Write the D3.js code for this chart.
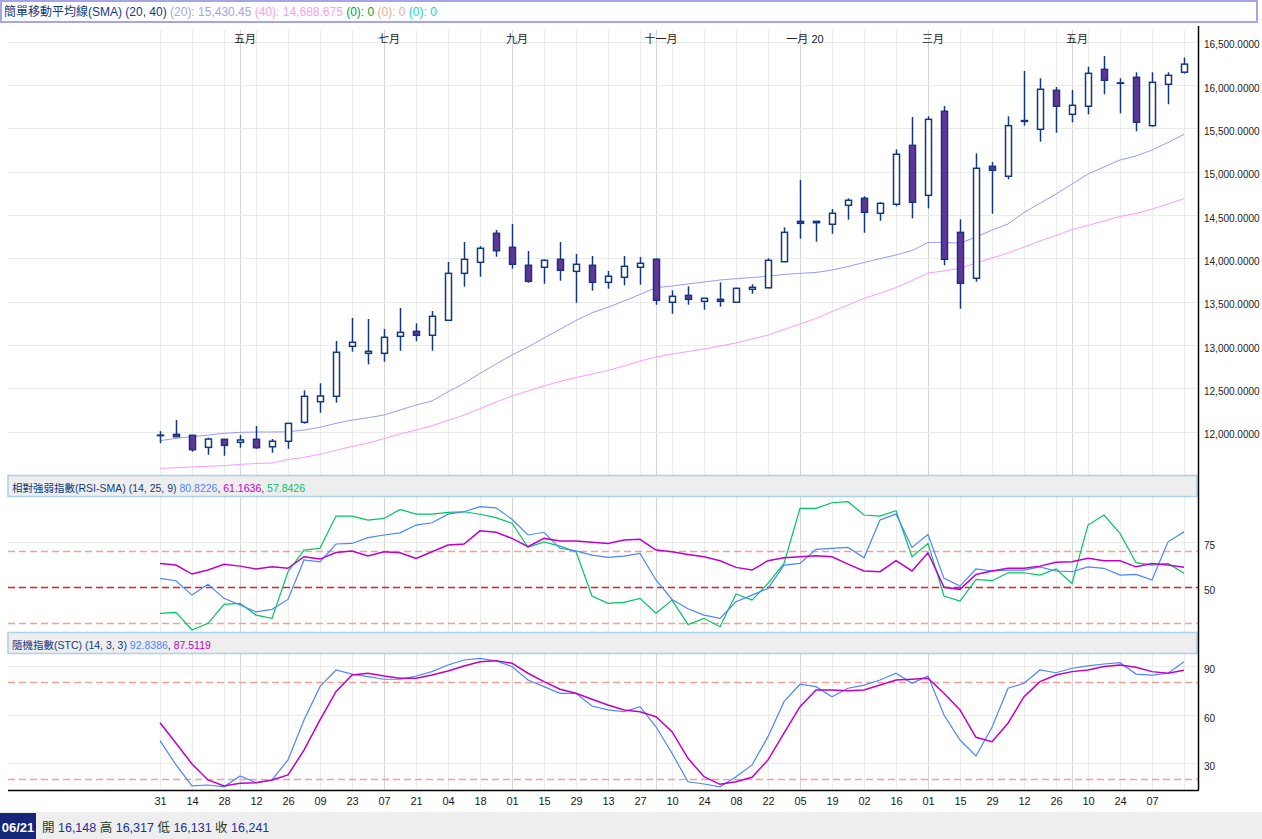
<!DOCTYPE html>
<html>
<head>
<meta charset="utf-8">
<script src="https://cdn.jsdelivr.net/npm/d3@7"></script>
<style>
  body { margin: 0; background: #fff; }
  svg { display: block; font-family: "Liberation Sans", Arial, "Noto Sans CJK TC", sans-serif; }
</style>
</head>
<body>
<svg id="chart" width="1262" height="839"></svg>
<script>
// weekly bars, 2019-03-31 .. 2020-06-21
const weeks = [
  "2019-03-31","2019-04-07","2019-04-14","2019-04-21","2019-04-28","2019-05-05","2019-05-12","2019-05-19",
  "2019-05-26","2019-06-02","2019-06-09","2019-06-16","2019-06-23","2019-06-30","2019-07-07","2019-07-14",
  "2019-07-21","2019-07-28","2019-08-04","2019-08-11","2019-08-18","2019-08-25","2019-09-01","2019-09-08",
  "2019-09-15","2019-09-22","2019-09-29","2019-10-06","2019-10-13","2019-10-20","2019-10-27","2019-11-03",
  "2019-11-10","2019-11-17","2019-11-24","2019-12-01","2019-12-08","2019-12-15","2019-12-22","2019-12-29",
  "2020-01-05","2020-01-12","2020-01-19","2020-01-26","2020-02-02","2020-02-09","2020-02-16","2020-02-23",
  "2020-03-01","2020-03-08","2020-03-15","2020-03-22","2020-03-29","2020-04-05","2020-04-12","2020-04-19",
  "2020-04-26","2020-05-03","2020-05-10","2020-05-17","2020-05-24","2020-05-31","2020-06-07","2020-06-14",
  "2020-06-21"
];

const openV = [11958,11969,11958,11819,11912,11877,11912,11826,11889,12108,12346,12408,12985,12904,12904,13100,
  13158,13112,13285,13827,13954,14289,14127,13920,13897,13989,13850,13920,13723,13781,13897,13989,
  13493,13573,13504,13527,13493,13643,13660,13961,14427,14427,14393,14612,14693,14520,14624,15304,
  14727,15697,14300,13770,15062,14947,15580,15489,15939,15662,15755,16181,16020,16089,15531,16008,16148];
const highV = [12007,12134,11962,11930,11915,11961,12065,11915,12098,12477,12558,13046,13312,13300,13185,13427,
  13250,13392,13958,14189,14142,14327,14396,14085,13989,14189,14050,14027,13854,14027,14015,14000,
  13631,13677,13540,13723,13660,13700,14000,14358,14904,14427,14569,14693,14716,14647,15258,15631,
  15639,15758,14450,15212,15112,15639,16162,16078,15977,15943,16211,16335,16078,16147,16147,16147,16317];
const lowV = [11866,11940,11769,11734,11722,11815,11803,11757,11803,12092,12219,12334,12923,12777,12807,12934,
  13043,12934,13285,13673,13788,14019,13880,13719,13707,13742,13488,13627,13650,13689,13696,13465,
  13361,13465,13407,13442,13485,13592,13655,13961,14227,14192,14284,14446,14296,14434,14601,14462,
  14577,13920,13419,13730,14515,14912,15531,15346,15450,15570,15662,15893,15674,15466,15519,15778,16131];
const closeV = [11960,11942,11792,11915,11842,11904,11815,11889,12096,12408,12412,12916,13031,12927,13089,13146,
  13112,13331,13827,13989,14116,14088,13931,13735,13977,13862,13931,13723,13793,13908,13943,13516,
  13562,13527,13539,13504,13654,13666,13977,14300,14404,14411,14520,14670,14531,14635,15201,14647,
  15604,13989,13712,15039,15016,15531,15590,15951,15755,15766,16135,16055,16025,15570,16031,16112,16241];

const sma20 = [11896,11923,11942,11961,11981,11992,11996,11996,11999,12019,12050,12096,12134,12161,12192,12250,
  12308,12354,12461,12558,12673,12781,12885,12977,13081,13181,13283,13372,13435,13508,13583,13662,
  13681,13704,13727,13750,13765,13778,13793,13814,13827,13837,13865,13906,13952,13996,14039,14090,
  14183,14185,14174,14246,14327,14396,14529,14635,14742,14858,14973,15054,15135,15181,15250,15337,15430.45];
const sma40 = [11577,11584,11593,11601,11608,11623,11632,11638,11679,11704,11739,11785,11829,11869,11919,11973,
  12019,12069,12129,12192,12265,12342,12411,12469,12527,12579,12625,12665,12706,12758,12815,12862,
  12896,12925,12954,12988,13023,13069,13115,13179,13242,13306,13387,13461,13537,13597,13663,13744,
  13831,13854,13885,13946,14004,14062,14131,14200,14264,14333,14379,14431,14483,14517,14569,14627,14688.675];

// RSI-SMA (14, 25, 9)
const rsi14 = [55.0,53.7,45.7,51.7,43.9,40.2,36.4,37.8,43.3,65.2,64.2,74.1,74.4,77.6,79.1,80.3,
  84.6,85.9,90.7,92.0,94.8,94.2,87.8,79.1,80.6,71.7,70.3,67.9,66.7,67.4,68.9,54.1,
  43.3,38.1,34.6,32.8,42.0,45.7,49.4,62.4,63.3,71.1,71.7,72.2,66.4,87.4,90.7,72.2,
  79.4,55.0,50.7,60.2,59.1,59.6,59.6,61.4,59.1,58.7,61.4,60.6,56.8,57.2,54.1,75.3,80.8226];
const rsi25 = [63.3,62.4,57.4,59.6,62.8,61.8,60.2,61.4,60.6,67.0,65.7,69.4,70.2,67.4,69.8,69.2,
  66.1,69.8,73.5,74.1,81.4,80.6,77.2,72.6,77.2,75.7,75.7,75.0,74.4,76.3,76.7,70.7,
  69.8,68.2,67.0,64.8,61.1,59.6,64.8,66.4,67.0,67.6,67.0,62.9,59.1,58.7,64.8,59.1,
  69.2,50.0,48.9,57.2,59.1,60.6,60.6,61.8,63.9,64.2,66.1,64.8,64.8,61.4,63.3,62.4,61.1636];
const rsi9 = [35.6,36.1,26.3,30.0,40.6,41.1,34.6,32.8,58.7,70.7,71.7,89.6,89.6,87.4,88.3,93.3,
  90.7,90.7,91.7,92.0,90.6,88.7,85.6,72.2,75.3,72.9,69.8,45.2,41.1,41.7,43.9,35.6,
  42.9,29.4,32.8,28.1,46.3,42.9,52.2,63.3,93.9,93.9,97.0,97.6,90.2,89.6,92.6,67.0,
  74.4,45.2,42.4,54.4,53.7,58.1,58.1,56.8,60.2,52.2,84.6,90.2,80.0,63.7,62.4,63.3,57.8426];

// Stochastic (14, 3, 3)
const stcK = [44.0,29.0,16.0,16.6,15.5,22.2,18.0,19.7,32.1,56.8,77.4,87.7,85.2,83.6,82.0,82.0,
  84.0,86.7,90.8,93.9,94.9,93.3,89.8,81.5,77.4,73.3,73.3,65.4,63.0,61.9,65.0,52.6,
  36.2,18.6,17.2,15.5,21.7,29.0,46.5,68.1,78.9,77.4,71.2,76.4,78.4,81.5,85.7,79.5,
  84.0,59.9,44.4,34.5,52.3,76.4,79.5,87.7,86.0,88.8,90.2,91.4,92.2,85.2,84.6,85.7,92.8386];
const stcD = [55.1,42.4,29.6,19.7,16.0,17.6,18.0,19.7,22.8,38.2,56.8,74.3,84.6,85.7,84.0,82.6,
  82.6,84.6,87.1,90.2,92.8,93.5,91.9,85.7,80.5,75.8,73.3,69.6,66.1,63.0,61.9,58.8,
  49.6,33.1,21.7,17.0,18.6,21.4,32.1,48.6,65.0,75.3,75.3,74.9,75.3,78.4,81.5,82.0,
  82.6,73.3,63.0,46.1,43.4,54.8,71.2,80.5,84.6,86.7,87.7,89.8,90.8,89.4,86.7,85.7,87.5119];

const priceTicks = [12000,12500,13000,13500,14000,14500,15000,15500,16000,16500];
const rsiTicks = [50, 75];
const rsiGuides = [30, 70];
const stcTicks = [30, 60, 90];
const stcGuides = [20, 80];
const monthWeeks = ["2019-05-05","2019-07-07","2019-09-01","2019-11-03","2020-01-05","2020-03-01","2020-05-03"];
const monthLabels = ["五月","七月","九月","十一月","一月 20","三月","五月"];

const svg = d3.select("#chart");
const L = 8, R = 1198;
const gridC = "#ebebeb", monthC = "#d6d6d6";
const navy = "#12397f";

const x = d3.scalePoint().domain(weeks).range([160, 1184]);
const yPrice = d3.scaleLinear().domain([11500, 16681]).range([475, 26]);
const yRsi = d3.scaleLinear().domain([25.2, 100.2]).range([632, 497]);
const yStc = d3.scaleLinear().domain([13.5, 97.6]).range([790, 654]);

const candles = weeks.map((w, i) => ({
  week: w, open: openV[i], high: highV[i], low: lowV[i], close: closeV[i]
}));
// every second week gets a grid line; the last one has no label
const gridWeeks = weeks.filter((w, i) => i % 2 === 0);
const dayTicks = gridWeeks.slice(0, -1);

// vertical grid through all panels
svg.append("g").selectAll("line")
  .data(gridWeeks).join("line")
  .attr("x1", d => x(d) + 0.5).attr("x2", d => x(d) + 0.5)
  .attr("y1", 30).attr("y2", 790)
  .attr("stroke", gridC);
svg.append("g").selectAll("line")
  .data(monthWeeks).join("line")
  .attr("x1", d => x(d) + 0.5).attr("x2", d => x(d) + 0.5)
  .attr("y1", 30).attr("y2", 790)
  .attr("stroke", monthC);

// horizontal grids
function hGrid(scale, ticks, color, dash, width) {
  svg.append("g").selectAll("line")
    .data(ticks).join("line")
    .attr("x1", L).attr("x2", R)
    .attr("y1", d => Math.round(scale(d)) + 0.5)
    .attr("y2", d => Math.round(scale(d)) + 0.5)
    .attr("stroke", color)
    .attr("stroke-width", width || 1)
    .attr("stroke-dasharray", dash || null);
}
hGrid(yPrice, priceTicks, gridC);
hGrid(yRsi, rsiTicks, gridC);
hGrid(yRsi, rsiGuides, "#f4a096", "7,4", 1.3);
hGrid(yRsi, [50], "#e01c1c", "7,4", 1.5);
hGrid(yStc, stcTicks, gridC);
hGrid(yStc, stcGuides, "#f4a096", "7,4", 1.3);

// clip paths
const defs = svg.append("defs");
[["clipPrice", 26, 475], ["clipRsi", 497, 632], ["clipStc", 654, 790]].forEach(([id, t, b]) => {
  defs.append("clipPath").attr("id", id)
    .append("rect").attr("x", L).attr("y", t).attr("width", R - L).attr("height", b - t);
});

// moving averages
const priceLine = d3.line().x((d, i) => x(weeks[i])).y(d => yPrice(d));
const priceG = svg.append("g").attr("clip-path", "url(#clipPrice)");
priceG.append("path").attr("d", priceLine(sma40)).attr("fill", "none").attr("stroke", "#ff99ff").attr("stroke-width", 1);
priceG.append("path").attr("d", priceLine(sma20)).attr("fill", "none").attr("stroke", "#9a9aff").attr("stroke-width", 1);

// candles
const cg = priceG.append("g").selectAll("g").data(candles).join("g");
cg.append("line")
  .attr("x1", d => x(d.week) + 0.5).attr("x2", d => x(d.week) + 0.5)
  .attr("y1", d => yPrice(d.high)).attr("y2", d => yPrice(d.low))
  .attr("stroke", navy).attr("stroke-width", 1.5);
cg.append("rect")
  .attr("x", d => x(d.week) - 2.5)
  .attr("width", 6)
  .attr("y", d => yPrice(Math.max(d.open, d.close)))
  .attr("height", d => Math.max(0.5, Math.abs(yPrice(d.open) - yPrice(d.close))))
  .attr("fill", d => d.close >= d.open ? "#ffffff" : "#663399")
  .attr("stroke", navy).attr("stroke-width", 1.5);

// RSI lines
const rsiLine = d3.line().x((d, i) => x(weeks[i])).y(d => yRsi(d));
const rsiG = svg.append("g").attr("clip-path", "url(#clipRsi)");
rsiG.append("path").attr("d", rsiLine(rsi9)).attr("fill", "none").attr("stroke", "#00c462").attr("stroke-width", 1.2);
rsiG.append("path").attr("d", rsiLine(rsi14)).attr("fill", "none").attr("stroke", "#4a86ff").attr("stroke-width", 1.2);
rsiG.append("path").attr("d", rsiLine(rsi25)).attr("fill", "none").attr("stroke", "#c000c8").attr("stroke-width", 1.5);

// Stochastic lines
const stcLine = d3.line().x((d, i) => x(weeks[i])).y(d => yStc(d));
const stcG = svg.append("g").attr("clip-path", "url(#clipStc)");
stcG.append("path").attr("d", stcLine(stcK)).attr("fill", "none").attr("stroke", "#4a86ff").attr("stroke-width", 1.2);
stcG.append("path").attr("d", stcLine(stcD)).attr("fill", "none").attr("stroke", "#c000c8").attr("stroke-width", 1.5);

// panel headers
function header(y, parts) {
  svg.append("rect").attr("x", L).attr("y", y).attr("width", R - 1 - L).attr("height", 21)
    .attr("fill", "#eeeeee").attr("stroke", "#a9d3ea").attr("stroke-width", 1.5);
  const t = svg.append("text").attr("x", L + 4).attr("y", y + 16).style("font-size", "10.5px");
  parts.forEach(([s, c]) => t.append("tspan").attr("fill", c).text(s));
}
header(475.5, [["相對強弱指數(RSI-SMA) (14, 25, 9) ", navy], ["80.8226", "#4a86ff"], [", ", navy],
  ["61.1636", "#c000c8"], [", ", navy], ["57.8426", "#00c462"]]);
header(632.5, [["隨機指數(STC) (14, 3, 3) ", navy], ["92.8386", "#4a86ff"], [", ", navy], ["87.5119", "#c000c8"]]);

// right axes
svg.append("line").attr("x1", R + 0.5).attr("x2", R + 0.5).attr("y1", 26).attr("y2", 790)
  .attr("stroke", "#000").attr("stroke-width", 1.5);
function rightAxis(scale, ticks, fmt) {
  const g = svg.append("g").attr("transform", `translate(${R},3)`)
    .call(d3.axisRight(scale).tickValues(ticks).tickSize(0).tickPadding(6).tickFormat(fmt));
  g.select(".domain").remove();
  g.selectAll("text").attr("fill", "#222").style("font-size", "10px").style("font-family", null);
}
rightAxis(yPrice, priceTicks, d3.format(",.4f"));
rightAxis(yRsi, rsiTicks, d3.format("d"));
rightAxis(yStc, stcTicks, d3.format("d"));

// x axis
svg.append("line").attr("x1", L).attr("x2", R + 1).attr("y1", 790.5).attr("y2", 790.5)
  .attr("stroke", "#000").attr("stroke-width", 1.5);
const xa = svg.append("g").attr("transform", "translate(0,791)")
  .call(d3.axisBottom(x).tickValues(dayTicks).tickSize(0).tickPadding(6).tickFormat(d => d.slice(8)));
xa.select(".domain").remove();
xa.selectAll("text").attr("fill", "#222").style("font-size", "11px").style("font-family", null);

// month labels
svg.append("g").selectAll("text")
  .data(monthWeeks).join("text")
  .attr("x", d => x(d) + 5).attr("y", 43)
  .attr("text-anchor", "middle")
  .attr("fill", "#222").style("font-size", "11px")
  .text((d, i) => monthLabels[i]);

// top legend
svg.append("rect").attr("x", 1).attr("y", 1).attr("width", 1256).attr("height", 21)
  .attr("fill", "#fff").attr("stroke", "#a4a4e6").attr("stroke-width", 2);
const lg = svg.append("text").attr("x", 4).attr("y", 16).style("font-size", "12px");
[["簡單移動平均線(SMA) (20, 40) ", navy], ["(20): 15,430.45 ", "#a4a4f2"], ["(40): 14,688.675 ", "#f4a0f4"],
 ["(0): 0 ", "#00a04a"], ["(0): 0 ", "#f4a890"], ["(0): 0", "#20d0d0"]]
  .forEach(([s, c]) => lg.append("tspan").attr("fill", c).text(s));

// bottom status bar
const last = candles[candles.length - 1];
svg.append("rect").attr("x", 0).attr("y", 812).attr("width", 1262).attr("height", 27).attr("fill", "#eeeeee");
svg.append("rect").attr("x", 0).attr("y", 813).attr("width", 36).attr("height", 26).attr("fill", "#15267a");
svg.append("text").attr("x", 18).attr("y", 832).attr("text-anchor", "middle")
  .attr("fill", "#fff").style("font-size", "13px").style("font-weight", "bold")
  .text(last.week.slice(5, 7) + "/" + last.week.slice(8));
const st = svg.append("text").attr("x", 42).attr("y", 832).style("font-size", "12.5px");
const f0 = d3.format(",");
[["開 ", "#1d3b2e"], [f0(last.open) + " ", "#1a2fa0"], ["高 ", "#1d3b2e"], [f0(last.high) + " ", "#1a2fa0"],
 ["低 ", "#1d3b2e"], [f0(last.low) + " ", "#1a2fa0"], ["收 ", "#1d3b2e"], [f0(last.close), "#1a2fa0"]]
  .forEach(([s, c]) => st.append("tspan").attr("fill", c).text(s));
</script>
</body>
</html>
